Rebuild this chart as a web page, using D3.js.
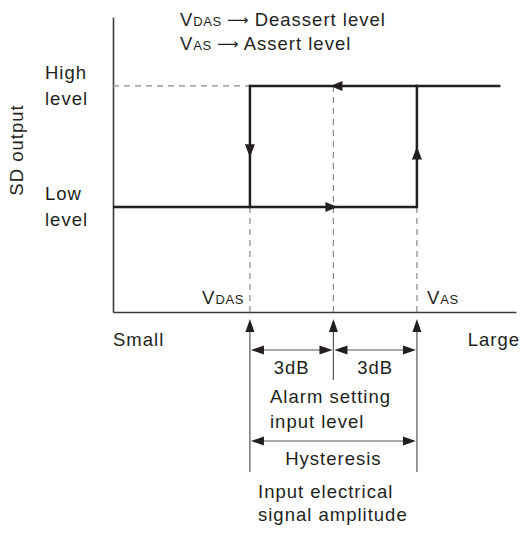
<!DOCTYPE html>
<html>
<head>
<meta charset="utf-8">
<script src="https://cdn.jsdelivr.net/npm/d3@7"></script>
<style>
  html, body { margin: 0; padding: 0; background: #fff; }
  text { font-family: "Liberation Sans", Arial, Helvetica, sans-serif; fill: #231f20; letter-spacing: 1px; }
</style>
</head>
<body>
<div id="chart"></div>
<script>
// ---- data ----
const levelNames = ["Low", "High"];            // SD output levels
const levelValues = [0, 1];
const thresholdNames = ["VDAS", "ALARM", "VAS"];
const thresholdDb = [-3, 0, 3];                // input amplitude relative to alarm setting (dB)
const lowPathDb = [-7.92, 3];                  // low-level segment (input small -> VAS)
const highPathDb = [-3, 6];                    // high-level segment (VDAS -> large)
const stepLabels = ["3dB", "3dB"];
const axisEnds = ["Small", "Large"];
const legendLines = [["V", "DAS", "Deassert level"], ["V", "AS", "Assert level"]];

// ---- setup ----
const W = 523, H = 534;
const svg = d3.select("#chart").append("svg").attr("width", W).attr("height", H);

const x = d3.scaleLinear().domain([-7.92, 6.56]).range([113, 516]);
const y = d3.scaleLinear().domain([-0.868, 1.57]).range([312, 17]);

const dark = "#231f20", gray = "#8a8a8a";
const FS = 18.5, SFS = 13;

function tri(cx, cy, dir, len, half, color) {
  let pts;
  if (dir === "left") pts = [[cx, cy], [cx + len, cy - half], [cx + len, cy + half]];
  if (dir === "right") pts = [[cx, cy], [cx - len, cy - half], [cx - len, cy + half]];
  if (dir === "up") pts = [[cx, cy], [cx - half, cy + len], [cx + half, cy + len]];
  if (dir === "down") pts = [[cx, cy], [cx - half, cy - len], [cx + half, cy - len]];
  svg.append("path").attr("d", d3.line()(pts) + "Z").attr("fill", color || dark);
}

// ---- axes ----
const xAxis = d3.axisBottom(x).tickValues([]).tickSizeOuter(0);
const yAxis = d3.axisLeft(y).tickValues([]).tickSizeOuter(0);
const gx = svg.append("g").attr("transform", `translate(0,${y.range()[0]})`).call(xAxis);
const gy = svg.append("g").attr("transform", `translate(${x.range()[0]},0)`).call(yAxis);
[gx, gy].forEach(g => g.select(".domain").attr("stroke", "#3a3a3a").attr("stroke-width", 1.6));

// ---- dashed guides ----
const dash = "6,5";
svg.append("line").attr("x1", x.range()[0]).attr("x2", x(thresholdDb[0]))
  .attr("y1", y(1)).attr("y2", y(1))
  .attr("stroke", gray).attr("stroke-width", 1.2).attr("stroke-dasharray", dash);
thresholdDb.forEach((d, i) => {
  const top = i === 1 ? y(1) : y(0);
  svg.append("line").attr("x1", x(d)).attr("x2", x(d))
    .attr("y1", top).attr("y2", y.range()[0])
    .attr("stroke", gray).attr("stroke-width", 1.2).attr("stroke-dasharray", dash);
});

// ---- hysteresis loop ----
const sw = 2.5;
svg.append("line").attr("x1", x(lowPathDb[0])).attr("x2", x(lowPathDb[1]))
  .attr("y1", y(levelValues[0])).attr("y2", y(levelValues[0]))
  .attr("stroke", dark).attr("stroke-width", sw);
svg.append("line").attr("x1", x(highPathDb[0])).attr("x2", x(highPathDb[1]))
  .attr("y1", y(levelValues[1])).attr("y2", y(levelValues[1]))
  .attr("stroke", dark).attr("stroke-width", sw);
[thresholdDb[0], thresholdDb[2]].forEach(d => {
  svg.append("line").attr("x1", x(d)).attr("x2", x(d))
    .attr("y1", y(1) - sw / 2).attr("y2", y(0) + sw / 2)
    .attr("stroke", dark).attr("stroke-width", sw);
});
tri(x(thresholdDb[1]) - 3, y(1), "left", 12, 5);
tri(x(thresholdDb[1]) + 4, y(0), "right", 12, 5);
tri(x(thresholdDb[0]), y(0.41), "down", 13, 5);
tri(x(thresholdDb[2]), y(0.5), "up", 13, 5);

// ---- labels on plot ----
function vText(xp, yp, parts, anchor) {
  const t = svg.append("text").attr("x", xp).attr("y", yp).attr("text-anchor", anchor || "start")
    .style("font-size", FS + "px");
  t.append("tspan").text(parts[0]);
  t.append("tspan").style("font-size", SFS + "px").style("letter-spacing", "0.6px").text(parts[1]);
  if (parts[2]) {
    t.append("tspan").style("letter-spacing", "0px").text(" ");
    t.append("tspan").style("font-family", "'DejaVu Sans'").style("letter-spacing", "0px")
      .style("font-size", "15px").attr("dy", -1).text("\u27F6");
    t.append("tspan").attr("dy", 1).text(" " + parts[2]);
  }
  return t;
}
vText(x(thresholdDb[0]) - 6, 304, ["V", "DAS"], "end");
vText(x(thresholdDb[2]) + 10, 304, ["V", "AS"], "start");
legendLines.forEach((p, i) => vText(180, 26 + i * 23.5, p, "start"));

// level labels
svg.append("text").attr("x", 45).attr("y", 79).style("font-size", FS + "px").text(levelNames[1]);
svg.append("text").attr("x", 45).attr("y", 105).style("font-size", FS + "px").text("level");
svg.append("text").attr("x", 45).attr("y", 200).style("font-size", FS + "px").text(levelNames[0]);
svg.append("text").attr("x", 45).attr("y", 226).style("font-size", FS + "px").text("level");
svg.append("text").attr("transform", "translate(23,150) rotate(-90)").attr("text-anchor", "middle")
  .style("font-size", FS + "px").text("SD output");

// axis end labels
svg.append("text").attr("x", 113).attr("y", 346).style("font-size", FS + "px").text(axisEnds[0]);
svg.append("text").attr("x", 520).attr("y", 346).attr("text-anchor", "end").style("font-size", FS + "px").text(axisEnds[1]);

// ---- below-axis annotation ----
const lineCol = "#555";
const belowTop = 319;
thresholdDb.forEach((d, i) => {
  const bottom = i === 1 ? 380 : 472;
  svg.append("line").attr("x1", x(d)).attr("x2", x(d)).attr("y1", belowTop + 4).attr("y2", bottom)
    .attr("stroke", lineCol).attr("stroke-width", 1.2);
  tri(x(d), belowTop, "up", 13, 4.5);
});
const yDb = 350;
[[thresholdDb[0], thresholdDb[1]], [thresholdDb[1], thresholdDb[2]]].forEach((seg, i) => {
  const a = x(seg[0]), b = x(seg[1]);
  svg.append("line").attr("x1", a + 4).attr("x2", b - 4).attr("y1", yDb).attr("y2", yDb)
    .attr("stroke", lineCol).attr("stroke-width", 1.2);
  tri(a + 1, yDb, "left", 13, 4.5);
  tri(b - 1, yDb, "right", 13, 4.5);
  svg.append("text").attr("x", (a + b) / 2).attr("y", 374).attr("text-anchor", "middle")
    .style("font-size", FS + "px").text(stepLabels[i]);
});
svg.append("text").attr("x", 270).attr("y", 403)
  .style("font-size", FS + "px").text("Alarm setting");
svg.append("text").attr("x", 270).attr("y", 428)
  .style("font-size", FS + "px").text("input level");
const yH = 441;
svg.append("line").attr("x1", x(thresholdDb[0]) + 4).attr("x2", x(thresholdDb[2]) - 4).attr("y1", yH).attr("y2", yH)
  .attr("stroke", lineCol).attr("stroke-width", 1.2);
tri(x(thresholdDb[0]) + 1, yH, "left", 13, 4.5);
tri(x(thresholdDb[2]) - 1, yH, "right", 13, 4.5);
svg.append("text").attr("x", x(thresholdDb[1])).attr("y", 465).attr("text-anchor", "middle")
  .style("font-size", FS + "px").text("Hysteresis");
svg.append("text").attr("x", 258).attr("y", 498)
  .style("font-size", FS + "px").text("Input electrical");
svg.append("text").attr("x", 258).attr("y", 521)
  .style("font-size", FS + "px").text("signal amplitude");
</script>
</body>
</html>
